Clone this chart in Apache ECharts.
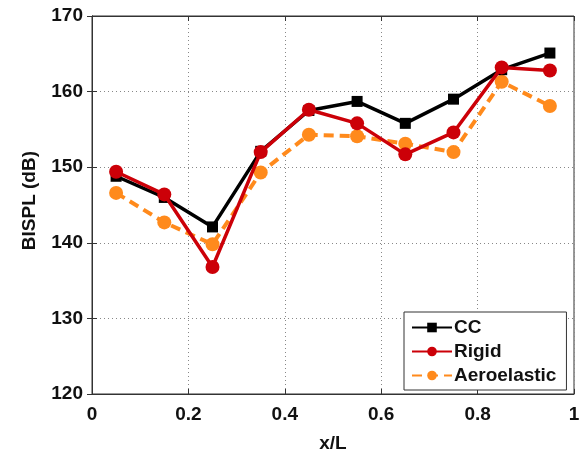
<!DOCTYPE html>
<html><head><meta charset="utf-8">
<script src="https://cdn.jsdelivr.net/npm/echarts@6/dist/echarts.min.js"></script>
<style>html,body{margin:0;padding:0;background:#fff}#c{width:585px;height:454px}</style>
</head><body><div id="c"></div>
<script>
var xPos = [0.05, 0.15, 0.25, 0.35, 0.45, 0.55, 0.65, 0.75, 0.85, 0.95];
var ccVals = [148.8, 146.0, 142.1, 152.1, 157.5, 158.7, 155.8, 159.0, 162.9, 165.1];
var rigidVals = [149.4, 146.4, 136.8, 152.0, 157.6, 155.8, 151.7, 154.6, 163.2, 162.8];
var aeroVals = [146.6, 142.7, 139.8, 149.3, 154.3, 154.1, 153.1, 152.0, 161.3, 158.1];
var seriesNames = ['CC', 'Rigid', 'Aeroelastic'];
var xTitle = 'x/L';
var yTitle = 'BISPL (dB)';

function pairs(v){ return xPos.map(function(x,i){ return [x, v[i]]; }); }
var font = 'Liberation Sans, Arial, Helvetica, sans-serif';
var chart = echarts.init(document.getElementById('c'));
var tickStyle = {show:true, inside:true, length:5, lineStyle:{color:'#333', width:1}};
chart.setOption({
  animation:false,
  backgroundColor:'#fff',
  grid:{left:92, top:16, right:11, bottom:60, outerBoundsMode:'none', containLabel:false,
        show:true, borderColor:'#333', borderWidth:1, backgroundColor:'transparent'},
  xAxis:[{
    type:'value', min:0, max:1, interval:0.2,
    axisLine:{show:true, lineStyle:{color:'#333', width:1}},
    axisTick:tickStyle,
    axisLabel:{color:'#111', fontFamily:font, fontWeight:'bold', fontSize:19, margin:11},
    splitLine:{show:true, lineStyle:{color:'#888', type:[1,3], width:1}},
    name:xTitle, nameLocation:'middle', nameGap:40,
    nameTextStyle:{color:'#111', fontFamily:font, fontWeight:'bold', fontSize:19}
  },{
    type:'value', min:0, max:1, interval:0.2, position:'top',
    axisLine:{show:true, lineStyle:{color:'#333'}}, axisTick:tickStyle,
    axisLabel:{show:false}, splitLine:{show:false}
  }],
  yAxis:[{
    type:'value', min:120, max:170, interval:10,
    axisLine:{show:true, lineStyle:{color:'#333', width:1}},
    axisTick:tickStyle,
    axisLabel:{color:'#111', fontFamily:font, fontWeight:'bold', fontSize:19, margin:9},
    splitLine:{show:true, lineStyle:{color:'#888', type:[1,3], width:1}}
  },{
    type:'value', min:120, max:170, interval:10, position:'right',
    axisLine:{show:true, lineStyle:{color:'#333'}}, axisTick:tickStyle,
    axisLabel:{show:false}, splitLine:{show:false}
  }],
  graphic:[{
    type:'text', left:20, top:151, rotation:Math.PI/2,
    style:{text:yTitle, fill:'#111', font:'bold 19px ' + font}
  }],
  legend:{
    orient:'vertical', left:404, top:312, width:150,
    backgroundColor:'#fff', borderColor:'#333', borderWidth:1,
    padding:[6,10,5,7], itemGap:5, itemWidth:40, itemHeight:12,
    textStyle:{color:'#111', fontFamily:font, fontWeight:'bold', fontSize:19, padding:[0,0,0,-3]},
    data:seriesNames
  },
  series:[{
    name:seriesNames[2], type:'line', data:pairs(aeroVals), z:2,
    symbol:'circle', symbolSize:14,
    itemStyle:{color:'#ff8a1c'},
    lineStyle:{color:'#ff8a1c', width:4, type:[10,6]}
  },{
    name:seriesNames[0], type:'line', data:pairs(ccVals), z:3,
    symbol:'rect', symbolSize:11,
    itemStyle:{color:'#000'},
    lineStyle:{color:'#000', width:3.5}
  },{
    name:seriesNames[1], type:'line', data:pairs(rigidVals), z:4,
    symbol:'circle', symbolSize:14,
    itemStyle:{color:'#cc0008'},
    lineStyle:{color:'#cc0008', width:3.5}
  }]
});
</script></body></html>
